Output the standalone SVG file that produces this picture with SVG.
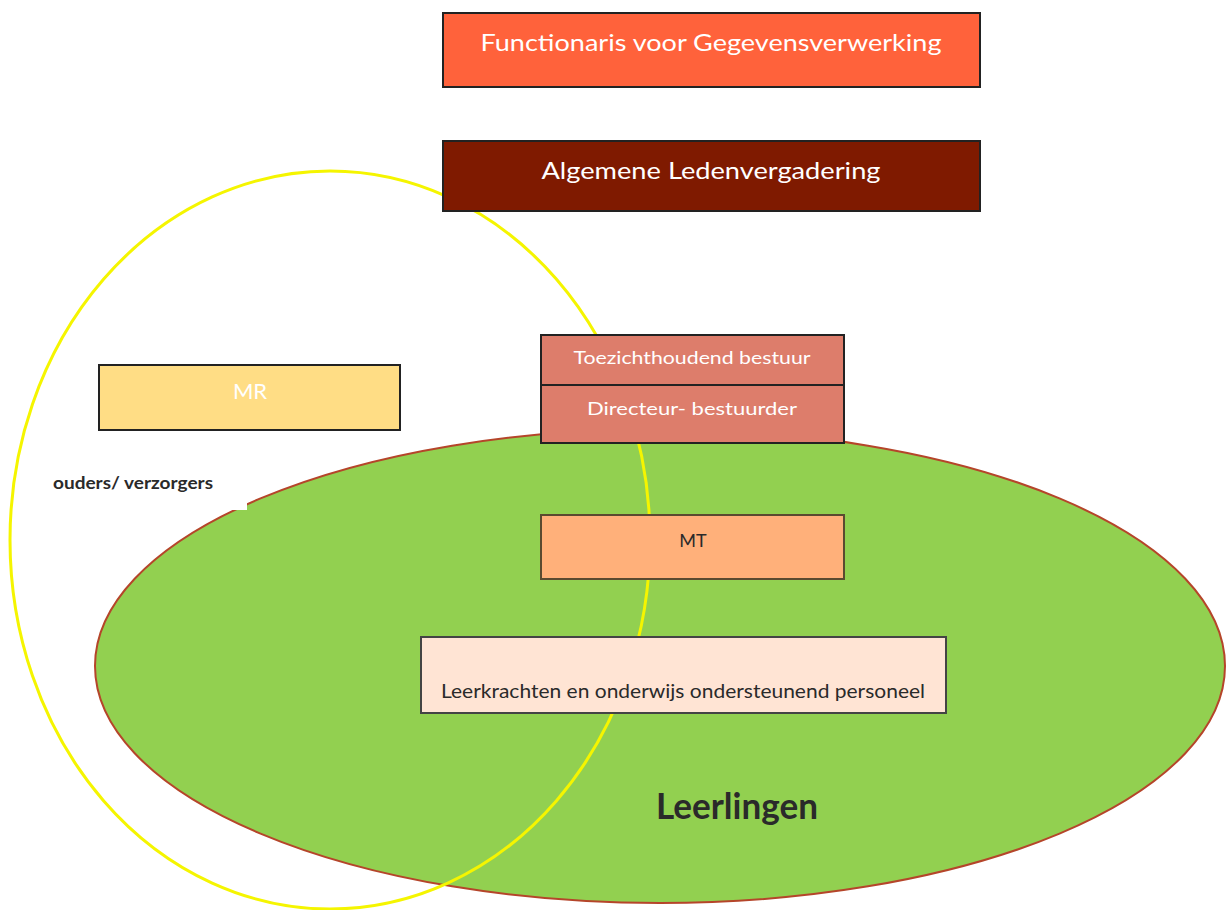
<svg xmlns="http://www.w3.org/2000/svg" width="1226" height="910" viewBox="0 0 1226 910">
<style>
text{font-family:Lato,"Open Sans","Liberation Sans",sans-serif;text-anchor:middle;dominant-baseline:central}
.box{stroke:#222;stroke-width:2}
.w{fill:#ffffff}
.d{fill:#2a2a2a}
</style>
<rect width="1226" height="910" fill="#ffffff"/>
<g id="leerlingen">
<ellipse cx="660" cy="666" rx="565" ry="237" fill="#92d050" stroke="#b5452a" stroke-width="2"/>
<text x="737" y="805" font-size="36" font-weight="bold" class="d" textLength="162" lengthAdjust="spacingAndGlyphs">Leerlingen</text>
</g>
<g id="ouders">
<ellipse cx="330" cy="540" rx="320" ry="369" fill="none" stroke="#f5f500" stroke-width="3"/>
<rect x="40" y="462" width="207" height="48" fill="#ffffff"/>
<text x="133" y="482" font-size="17" font-weight="bold" class="d" textLength="160" lengthAdjust="spacingAndGlyphs">ouders/ verzorgers</text>
</g>
<g id="fg">
<rect class="box" x="443" y="13" width="537" height="74" fill="#ff623b"/>
<text x="711" y="41" font-size="24" class="w" textLength="461" lengthAdjust="spacingAndGlyphs">Functionaris voor Gegevensverwerking</text>
</g>
<g id="alv">
<rect class="box" x="443" y="141" width="537" height="70" fill="#7f1a00"/>
<text x="711" y="169" font-size="24" class="w" textLength="339" lengthAdjust="spacingAndGlyphs">Algemene Ledenvergadering</text>
</g>
<g id="mr">
<rect class="box" x="99" y="365" width="301" height="65" fill="#ffdd85"/>
<text x="250" y="390" font-size="22" class="w">MR</text>
</g>
<g id="tb">
<rect class="box" x="541" y="335" width="303" height="50" fill="#dd7d6b"/>
<text x="692" y="357" font-size="18" class="w" textLength="237" lengthAdjust="spacingAndGlyphs">Toezichthoudend bestuur</text>
</g>
<g id="db">
<rect class="box" x="541" y="385" width="303" height="58" fill="#dd7d6b"/>
<text x="692" y="408" font-size="18" class="w" textLength="210" lengthAdjust="spacingAndGlyphs">Directeur- bestuurder</text>
</g>
<g id="mt">
<rect x="541" y="515" width="303" height="64" fill="#ffb07a" stroke="#5a4a30" stroke-width="2"/>
<text x="693" y="540" font-size="18" class="d">MT</text>
</g>
<g id="lk">
<rect x="421" y="637" width="525" height="76" fill="#ffe4d4" stroke="#444" stroke-width="2"/>
<text x="683" y="690" font-size="19" class="d" textLength="484" lengthAdjust="spacingAndGlyphs">Leerkrachten en onderwijs ondersteunend personeel</text>
</g>
<g id="connectors"></g>
</svg>
